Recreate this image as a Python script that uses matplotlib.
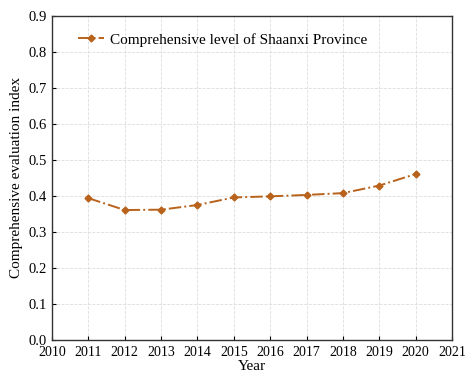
import matplotlib
matplotlib.use('Agg')
import matplotlib.pyplot as plt

years = [2011, 2012, 2013, 2014, 2015, 2016, 2017, 2018, 2019, 2020]
level = [0.394, 0.361, 0.362, 0.375, 0.396, 0.399, 0.403, 0.408, 0.429, 0.461]

plt.rcParams['font.family'] = ['Liberation Serif', 'DejaVu Serif']

fig = plt.figure(figsize=(4.65, 3.74), dpi=100)
ax = fig.add_axes([52 / 465, 34 / 374, 400 / 465, 324 / 374])

ax.plot(years, level, color='#b8621b', linestyle='-.', linewidth=1.4,
        marker='D', markersize=3.5, label='Comprehensive level of Shaanxi Province')

ax.set_xlim(2010, 2021)
ax.set_ylim(0, 0.9)
ax.set_xticks(range(2010, 2022))
ax.set_yticks([i / 10 for i in range(10)])
ax.set_yticklabels([f'{i / 10:.1f}' for i in range(10)])
ax.tick_params(direction='in', labelsize=10.5, length=3, width=0.8)
ax.tick_params(axis='x', labelsize=10, pad=4)
ax.grid(True, linestyle='--', color='#dddddd', linewidth=0.6)
for s in ax.spines.values():
    s.set_linewidth(1.0)
    s.set_color('#333333')

ax.set_xlabel('Year', fontsize=11, labelpad=1)
ax.set_ylabel('Comprehensive evaluation index', fontsize=11, labelpad=4)
ax.legend(loc='upper left', frameon=False, fontsize=11, handlelength=1.7,
          handletextpad=0.4, bbox_to_anchor=(0.03, 0.99))

fig.savefig('out.png', dpi=100)
